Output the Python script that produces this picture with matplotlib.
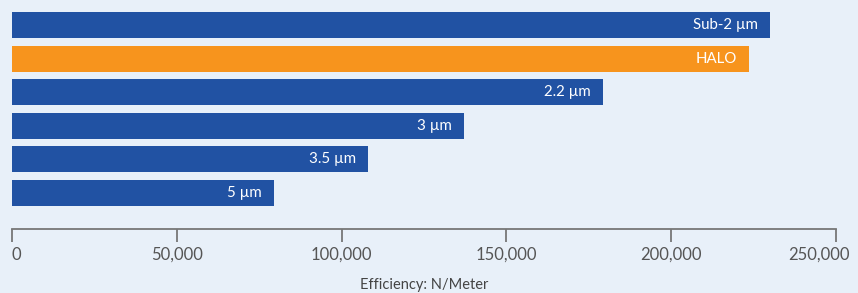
import matplotlib
matplotlib.use("Agg")
import matplotlib.pyplot as plt
from matplotlib.transforms import ScaledTranslation

labels = ["Sub-2 µm", "HALO", "2.2 µm", "3 µm", "3.5 µm", "5 µm"]
values = [230000, 223600, 179300, 137100, 108000, 79500]
colors = ["#2152a3", "#f7941d", "#2152a3", "#2152a3", "#2152a3", "#2152a3"]
xticks = [0, 50000, 100000, 150000, 200000, 250000]

plt.rcParams['font.family'] = ['Lato', 'DejaVu Sans']
bg = "#e8f0f9"

fig = plt.figure(figsize=(8.58, 2.93), dpi=100, facecolor=bg)
ax = fig.add_axes([12/858, 1-228.5/293, 824/858, 223.5/293])
ax.set_facecolor(bg)

pos = list(range(len(values)))
ax.barh(pos, values, height=0.774, color=colors)
for p, v, lab in zip(pos, values, labels):
    ax.annotate(lab, (v, p), xytext=(-12, 0), textcoords="offset pixels",
                ha="right", va="center", color="white", fontsize=10.8)

ax.set_xlim(0, 250000)
ax.set_ylim(6.057, -0.595)
ax.set_yticks([])
ax.set_xticks(xticks)
ax.set_xticklabels([f"{t:,}" for t in xticks], fontsize=12, color="#555555")
ax.tick_params(axis="x", direction="out", length=9, width=1.3, color="#777777", pad=4)
# keep edge labels inside the figure like the original
tl = ax.get_xticklabels()
tl[0].set_horizontalalignment("left")
tl[-1].set_transform(tl[-1].get_transform() + ScaledTranslation(-0.17, 0, fig.dpi_scale_trans))
for s in ["top", "left", "right"]:
    ax.spines[s].set_visible(False)
ax.spines["bottom"].set_color("#777777")
ax.spines["bottom"].set_linewidth(1.3)
ax.set_xlabel("Efficiency: N/Meter", fontsize=10.5, color="#444444", labelpad=11)

fig.savefig("out.png", dpi=100, facecolor=bg)
